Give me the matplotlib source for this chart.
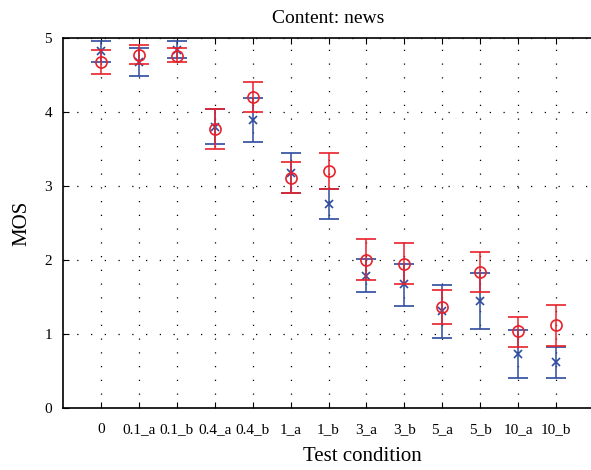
import matplotlib
matplotlib.use("Agg")
import matplotlib.pyplot as plt
import numpy as np

categories = ["0", "0.1_a", "0.1_b", "0.4_a", "0.4_b", "1_a", "1_b",
              "3_a", "3_b", "5_a", "5_b", "10_a", "10_b"]
blue_mean = [4.82, 4.67, 4.84, 3.80, 3.89, 3.18, 2.76, 1.79, 1.67, 1.31, 1.45, 0.73, 0.62]
blue_low  = [4.68, 4.48, 4.73, 3.57, 3.59, 2.91, 2.56, 1.57, 1.38, 0.95, 1.07, 0.41, 0.41]
blue_high = [4.96, 4.86, 4.96, 4.04, 4.19, 3.45, 2.96, 2.01, 1.95, 1.66, 1.83, 1.05, 0.83]
red_mean  = [4.68, 4.77, 4.76, 3.77, 4.20, 3.11, 3.20, 2.00, 1.95, 1.37, 1.84, 1.04, 1.12]
red_low   = [4.52, 4.65, 4.67, 3.50, 4.00, 2.90, 2.96, 1.73, 1.67, 1.14, 1.57, 0.83, 0.84]
red_high  = [4.84, 4.90, 4.86, 4.04, 4.40, 3.32, 3.44, 2.28, 2.23, 1.59, 2.11, 1.23, 1.39]

plt.rcParams['font.family'] = ['Liberation Serif', 'DejaVu Serif']

fig = plt.figure(figsize=(5.91, 4.70), dpi=100)
ax = fig.add_axes([63/591, 62/470, (594-63)/591, 370/470])

x = np.arange(1, len(categories) + 1)
blue = '#2e4c9e'
red = '#e8212b'

bm = np.array(blue_mean); rm = np.array(red_mean)
ax.errorbar(x, bm, yerr=[bm - np.array(blue_low), np.array(blue_high) - bm],
            fmt='x', color=blue, ecolor=blue, capsize=7, markersize=6,
            elinewidth=1.1, capthick=1.1, markeredgewidth=1.2, zorder=3)
ax.errorbar(x, rm, yerr=[rm - np.array(red_low), np.array(red_high) - rm],
            fmt='o', color=red, ecolor=red, capsize=7, markersize=8,
            markerfacecolor='none', elinewidth=1.1, capthick=1.1,
            markeredgewidth=1.2, zorder=4)

ax.set_xlim(0, 14)
ax.set_ylim(0, 5)
ax.set_xticks(x)
ax.set_xticklabels(categories)
ax.set_yticks(range(0, 6))

ax.grid(True, color='black', linestyle=(0, (1, 10)), linewidth=0.9)
ax.tick_params(direction='in', top=True, right=False, length=4, labelsize=11)
ax.tick_params(axis='x', pad=11)
ax.tick_params(axis='y', pad=8)
ax.spines['right'].set_visible(False)
for s in ['left', 'bottom', 'top']:
    ax.spines[s].set_linewidth(1.2)

ax.set_title('Content: news', fontsize=14, pad=11)
ax.set_xlabel('Test condition', fontsize=15)
ax.xaxis.set_label_coords((362-63)/(594-63), -0.105)
ax.set_ylabel('MOS', fontsize=15)
ax.yaxis.set_label_coords(-0.06, 0.5)

fig.savefig('out.png', dpi=100)
